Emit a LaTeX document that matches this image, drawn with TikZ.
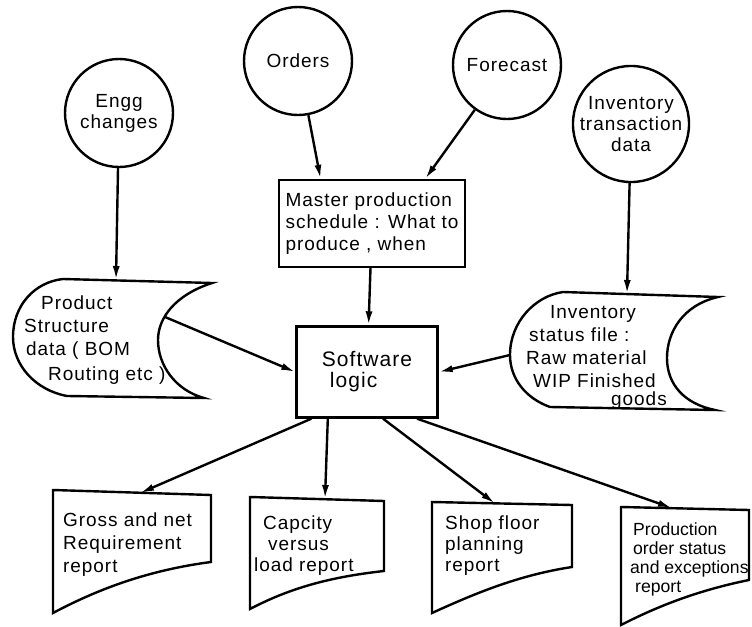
\documentclass[tikz,border=0pt]{standalone}
\usepackage{fontspec}
\setmainfont{Liberation Sans}[LetterSpace=5]
\usepackage{tikz}
\usetikzlibrary{arrows.meta,positioning}

\begin{document}
\begin{tikzpicture}[
  x=0.5pt,y=-0.5pt,line width=1.2pt,
  source/.style={circle,draw,inner sep=0pt,minimum size=54pt,align=center,font=\fontsize{9.5}{10.5}\selectfont},
  process/.style={rectangle,draw,inner sep=2pt,align=left,font=\fontsize{9.5}{11}\selectfont},
  txt/.style={inner sep=0pt,anchor=north west,align=left,font=\fontsize{9.5}{11.5}\selectfont},
  arrow/.style={-{Latex[length=7pt,width=3.5pt]}}
]
\useasboundingbox (0,0) rectangle (752,627);

\node[source] (engg) at (119,113) {Engg\\changes};
\node[source] (orders) at (298,61) {Orders};
\node[source] (forecast) at (507,65) {Forecast};
\node[source,minimum size=55pt] (invtrans) at (631,124) {Inventory\\transaction\\data};
\node[process,minimum width=93pt,minimum height=43.5pt] (mps) at (372,223.5) {Master production\\schedule : What to\\produce , when};
\node[process,minimum width=70.5pt,minimum height=45.5pt,font=\fontsize{10.5}{10.5}\selectfont] (soft) at (367,372) {Software\\\hspace{4pt}logic};

\coordinate (bomin) at (116,280);
\coordinate (bomout) at (165,317);
\draw (63,279) -- (212,283)
  .. controls (175,295) and (158,318) .. (158,340)
  .. controls (158,365) and (175,390) .. (204,398)
  -- (67,396)
  .. controls (35,390) and (13,365) .. (13,337)
  .. controls (13,305) and (35,282) .. (63,279) -- cycle;
\node[txt] (bomtext) at (23,295) {\hspace{8.5pt}Product\\Structure\\\hspace{1pt}data ( BOM\\[1pt]\hspace{12pt}Routing etc )};

\coordinate (invin) at (627,294);
\coordinate (invout) at (510,355);
\draw (563,292) -- (718,297)
  .. controls (683,305) and (667,332) .. (667,358)
  .. controls (667,385) and (685,404) .. (715,410)
  -- (550,407)
  .. controls (525,398) and (510,378) .. (510,355)
  .. controls (510,322) and (535,296) .. (563,292) -- cycle;
\node[txt,font=\fontsize{9.5}{11.5}\selectfont] (invtext) at (525,304) {\hspace{12pt}Inventory\\\hspace{1.5pt}status file :\\Raw material\\\hspace{3.5pt}WIP Finished\\[-2.5pt]\hspace{42.5pt}goods};

\coordinate (grossin) at (140,493);
\draw (53,490) -- (211,495) -- (211,562) .. controls (150,570) and (100,588) .. (53,613) -- cycle;
\node[txt] (grosstext) at (62,512) {Gross and net\\Requirement\\report};

\coordinate (capin) at (325,499);
\draw (250,497) -- (384,501) -- (384,571) .. controls (330,577) and (290,588) .. (250,609) -- cycle;
\node[txt,font=\fontsize{9.5}{10.5}\selectfont] (captext) at (253,515) {\hspace{4.5pt}Capcity\\\hspace{7pt}versus\\load report};

\coordinate (shopin) at (495,503.5);
\draw (432,502) -- (572,505) -- (572,567) .. controls (520,575) and (478,592) .. (432,613) -- cycle;
\node[txt,font=\fontsize{9.5}{10.5}\selectfont] (shoptext) at (444,515) {Shop floor\\planning\\report};

\coordinate (prodin) at (672,508);
\draw (621,507) -- (749,510) -- (749,580) .. controls (700,590) and (660,605) .. (621,625) -- cycle;
\node[txt,font=\fontsize{8.8}{9.5}\selectfont\addfontfeatures{LetterSpace=0}] (prodtext) at (629,522) {\hspace{1.5pt}Production\\\hspace{1.5pt}order status\\and exceptions\\\hspace{2.5pt}report};

\draw[arrow] (engg) -- (bomin);
\draw[arrow] (orders) -- (mps.139);
\draw[arrow] (forecast) -- (mps.40);
\draw[arrow] (invtrans) -- (invin);
\draw[arrow] (mps) -- (soft);
\draw[arrow] (bomout) -- (soft.west);
\draw[arrow] (invout) -- (soft.east);
\draw[arrow] (soft.220) -- (grossin);
\draw[arrow] (soft.230) -- (capin);
\draw[arrow] (soft.289) -- (shopin);
\draw[arrow] (soft.317) -- (prodin);
\end{tikzpicture}
\end{document}
